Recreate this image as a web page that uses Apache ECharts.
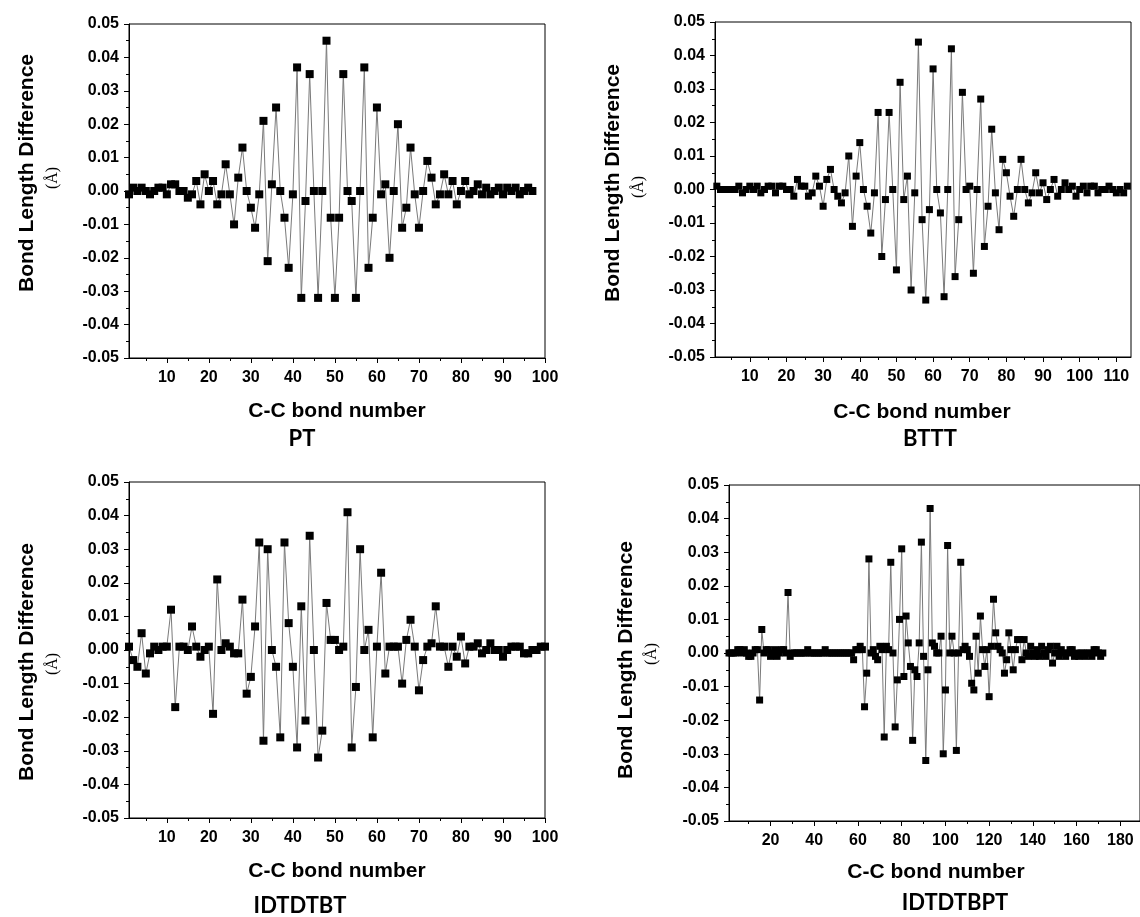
<!DOCTYPE html>
<html>
<head>
<meta charset="utf-8">
<script src="https://cdn.jsdelivr.net/npm/echarts@6/dist/echarts.min.js"></script>
<style>
html,body{margin:0;padding:0;background:#fff;}
#chart{width:1140px;height:917px;}
</style>
</head>
<body>
<div id="chart"></div>
<script>
// ---------------- data ----------------
const panelNames = ['PT', 'BTTT', 'IDTDTBT', 'IDTDTBPT'];
const yTitle = 'Bond Length Difference';
const yUnit = '(Å)';
const xTitle = 'C-C bond number';

const ptValues = [
  -0.001, 0.001, 0, 0.001, 0, -0.001, 0, 0.001, 0.001, -0.001,
  0.002, 0.002, 0, 0, -0.002, -0.001, 0.003, -0.004, 0.005, 0,
  0.003, -0.004, -0.001, 0.008, -0.001, -0.010, 0.004, 0.013, 0, -0.005,
  -0.011, -0.001, 0.021, -0.021, 0.002, 0.025, 0, -0.008, -0.023, -0.001,
  0.037, -0.032, -0.003, 0.035, 0, -0.032, 0, 0.045, -0.008, -0.032,
  -0.008, 0.035, 0, -0.003, -0.032, 0, 0.037, -0.023, -0.008, 0.025,
  -0.001, 0.002, -0.020, 0, 0.020, -0.011, -0.005, 0.013, -0.001, -0.011,
  0, 0.009, 0.004, -0.004, -0.001, 0.005, -0.001, 0.003, -0.004, 0,
  0.003, -0.001, 0, 0.002, -0.001, 0.001, -0.001, 0, 0.001, -0.001,
  0.001, 0, 0.001, -0.001, 0, 0.001, 0
];

const ptttValues = [
  0.001, 0, 0, 0, 0, 0, 0.001, -0.001, 0, 0.001,
  0, 0.001, -0.001, 0, 0.001, 0.001, -0.001, 0.001, 0.001, 0,
  0, -0.002, 0.003, 0.001, 0.001, -0.002, -0.001, 0.004, 0.001, -0.005,
  0.003, 0.006, 0, -0.002, -0.004, -0.001, 0.010, -0.011, 0.004, 0.014,
  0, -0.005, -0.013, -0.001, 0.023, -0.020, -0.003, 0.023, 0, -0.024,
  0.032, -0.003, 0.004, -0.030, -0.001, 0.044, -0.009, -0.033, -0.006, 0.036,
  0, -0.007, -0.032, 0, 0.042, -0.026, -0.009, 0.029, 0, 0.001,
  -0.025, 0, 0.027, -0.017, -0.005, 0.018, -0.001, -0.012, 0.009, 0.005,
  -0.002, -0.008, 0, 0.009, 0, -0.004, -0.001, 0.005, -0.001, 0.002,
  -0.003, 0, 0.003, -0.002, 0, 0.002, 0, 0.001, -0.002, 0,
  0.001, -0.001, 0.001, 0.001, -0.001, 0, 0, 0.001, 0, -0.001,
  0, -0.001, 0.001
];

const idtdtbtValues = [
  0.001, -0.003, -0.005, 0.005, -0.007, -0.001, 0.001, 0, 0.001, 0.001,
  0.012, -0.017, 0.001, 0.001, 0, 0.007, 0.001, -0.002, 0, 0.001,
  -0.019, 0.021, 0, 0.002, 0.001, -0.001, -0.001, 0.015, -0.013, -0.008,
  0.007, 0.032, -0.027, 0.030, 0, -0.005, -0.026, 0.032, 0.008, -0.005,
  -0.029, 0.013, -0.021, 0.034, 0, -0.032, -0.024, 0.014, 0.003, 0.003,
  0, 0.001, 0.041, -0.029, -0.011, 0.030, 0, 0.006, -0.026, 0.001,
  0.023, -0.007, 0.001, 0.001, 0.001, -0.010, 0.003, 0.009, 0.001, -0.012,
  -0.003, 0.001, 0.002, 0.013, 0.001, 0.001, -0.005, 0.001, -0.002, 0.004,
  -0.004, 0.001, 0.001, 0.002, -0.001, 0, 0.002, 0, 0, -0.002,
  0, 0.001, 0.001, 0.001, -0.001, -0.001, 0, 0, 0.001, 0.001
];

const idtdtbptValues = [
  0, 0, 0, 0, 0.001, 0.001, 0, 0.001, 0, -0.001,
  -0.001, 0, 0.001, 0.001, -0.014, 0.007, 0, 0.001, 0.001, -0.001,
  0, 0.001, -0.001, 0, 0.001, 0.001, 0, 0.018, -0.001, 0,
  0, 0, 0, 0, 0, 0, 0.001, 0, 0, 0,
  0, 0, 0, 0, 0.001, 0, 0, 0, 0, 0,
  0, 0, 0, 0, 0, 0, 0, -0.002, 0.001, 0.001,
  0.002, 0.001, -0.016, -0.006, 0.028, 0, 0.001, -0.001, -0.002, 0.002,
  0.001, -0.025, 0.002, 0.001, 0.027, 0, -0.022, -0.008, 0.010, 0.031,
  -0.007, 0.011, 0.003, -0.004, -0.026, -0.005, -0.007, 0.003, 0.033, -0.001,
  -0.032, -0.005, 0.043, 0.003, 0.002, 0, 0, 0.005, -0.030, -0.011,
  0.032, 0, 0.005, 0, -0.029, 0, 0.027, 0.001, 0.002, 0.001,
  -0.001, -0.009, -0.011, 0.005, -0.006, 0.011, 0.001, -0.004, 0.001, -0.013,
  0.002, 0.016, 0.006, 0.002, 0.001, 0, -0.006, -0.002, 0.006, 0.001,
  -0.005, 0.001, 0.004, 0.004, -0.002, 0.004, 0, -0.001, 0.002, 0,
  -0.001, 0.001, -0.001, 0.002, 0, -0.001, 0.001, 0.002, -0.003, 0,
  0.002, -0.001, 0.001, 0, -0.001, 0, 0.001, 0.001, -0.001, 0,
  -0.001, 0, 0, -0.001, 0, 0, -0.001, 0.001, 0.001, 0,
  -0.001, 0
];

// tick labels
const xTicks1 = [10, 20, 30, 40, 50, 60, 70, 80, 90, 100];
const xMinor1 = [5, 15, 25, 35, 45, 55, 65, 75, 85, 95];
const xTicks2 = [10, 20, 30, 40, 50, 60, 70, 80, 90, 100, 110];
const xMinor2 = [5, 15, 25, 35, 45, 55, 65, 75, 85, 95, 105];
const xTicks4 = [20, 40, 60, 80, 100, 120, 140, 160, 180];
const xMinor4 = [10, 30, 50, 70, 90, 110, 130, 150, 170];

// ---------------- layout ----------------
const panels = [
  {values: ptValues, grid: {left: 129, top: 24, width: 416, height: 334}, xMin: 1, xMax: 100, ticks: xTicks1, minor: xMinor1, sym: 8},
  {values: ptttValues, grid: {left: 715, top: 22, width: 416, height: 335}, xMin: 0.5, xMax: 114, ticks: xTicks2, minor: xMinor2, sym: 7},
  {values: idtdtbtValues, grid: {left: 129, top: 482, width: 416, height: 336}, xMin: 1, xMax: 100, ticks: xTicks1, minor: xMinor1, sym: 8},
  {values: idtdtbptValues, grid: {left: 729, top: 485, width: 413, height: 336}, xMin: 1, xMax: 189, ticks: xTicks4, minor: xMinor4, sym: 7}
];

const FONT = 'Liberation Sans, Arial, sans-serif';
const chart = echarts.init(document.getElementById('chart'), null, {renderer: 'canvas'});

const grids = [], xAxes = [], yAxes = [], series = [];
panels.forEach((p, i) => {
  grids.push(Object.assign({show: true, borderColor: '#000', borderWidth: 1, backgroundColor: 'transparent'}, p.grid));
  xAxes.push({
    gridIndex: i, type: 'value', min: p.xMin, max: p.xMax, position: 'bottom',
    axisLine: {show: true, onZero: false, lineStyle: {color: '#000', width: 1}},
    axisTick: {show: true, inside: false, length: 5, customValues: p.ticks, lineStyle: {color: '#000'}},
    axisLabel: {show: true, customValues: p.ticks, margin: 12, color: '#000', fontFamily: FONT, fontWeight: 'bold', fontSize: 16},
    splitLine: {show: false}
  });
  xAxes.push({
    gridIndex: i, type: 'value', min: p.xMin, max: p.xMax, position: 'bottom', offset: 0,
    axisLine: {show: false, onZero: false},
    axisTick: {show: true, inside: false, length: 3, customValues: p.minor, lineStyle: {color: '#000'}},
    axisLabel: {show: false},
    splitLine: {show: false}
  });
  yAxes.push({
    gridIndex: i, type: 'value', min: -0.05, max: 0.05, interval: 0.01,
    axisLine: {show: true, onZero: false, lineStyle: {color: '#000', width: 1}},
    axisTick: {show: true, inside: false, length: 5, lineStyle: {color: '#000'}},
    minorTick: {show: true, splitNumber: 2, length: 3, lineStyle: {color: '#000'}},
    axisLabel: {margin: 10, color: '#000', fontFamily: FONT, fontWeight: 'bold', fontSize: 16,
      formatter: v => (Math.abs(v) < 1e-9 ? '0.00' : v.toFixed(2))},
    splitLine: {show: false}
  });
  series.push({
    type: 'line', xAxisIndex: 2 * i, yAxisIndex: i,
    data: p.values.map((v, k) => [k + 1, v]),
    symbol: 'rect', symbolSize: p.sym, showSymbol: true, showAllSymbol: true,
    itemStyle: {color: '#000'},
    lineStyle: {color: '#7a7a7a', width: 1},
    emphasis: {disabled: true},
    animation: false, z: 3
  });
});

function txt(x, y, text, font, rot) {
  return {type: 'text', x: x, y: y, rotation: rot || 0, silent: true,
    style: {text: text, x: 0, y: 0, font: font, fill: '#000',
      align: 'center', verticalAlign: 'middle', textAlign: 'center', textVerticalAlign: 'middle'}};
}
const titleFont = 'bold 21px ' + FONT;
const unitFont = '16px "Liberation Serif", "Times New Roman", serif';
const nameFont = 'bold 22px Lato, "Open Sans", sans-serif';
const R = Math.PI / 2;
const graphics = [
  // panel 1
  txt(27, 173, yTitle, titleFont, R), txt(53, 178, yUnit, unitFont, R),
  txt(337, 411, xTitle, titleFont), txt(302, 439, panelNames[0], nameFont),
  // panel 2
  txt(613, 183, yTitle, titleFont, R), txt(639, 187, yUnit, unitFont, R),
  txt(922, 412, xTitle, titleFont), txt(930, 439, panelNames[1], nameFont),
  // panel 3
  txt(27, 662, yTitle, titleFont, R), txt(53, 664, yUnit, unitFont, R),
  txt(337, 871, xTitle, titleFont), txt(300, 906, panelNames[2], nameFont),
  // panel 4
  txt(626, 660, yTitle, titleFont, R), txt(652, 654, yUnit, unitFont, R),
  txt(936, 872, xTitle, titleFont), txt(955, 903, panelNames[3], nameFont)
];

chart.setOption({
  animation: false,
  backgroundColor: '#fff',
  grid: grids,
  xAxis: xAxes,
  yAxis: yAxes,
  series: series,
  graphic: graphics
});
</script>
</body>
</html>
